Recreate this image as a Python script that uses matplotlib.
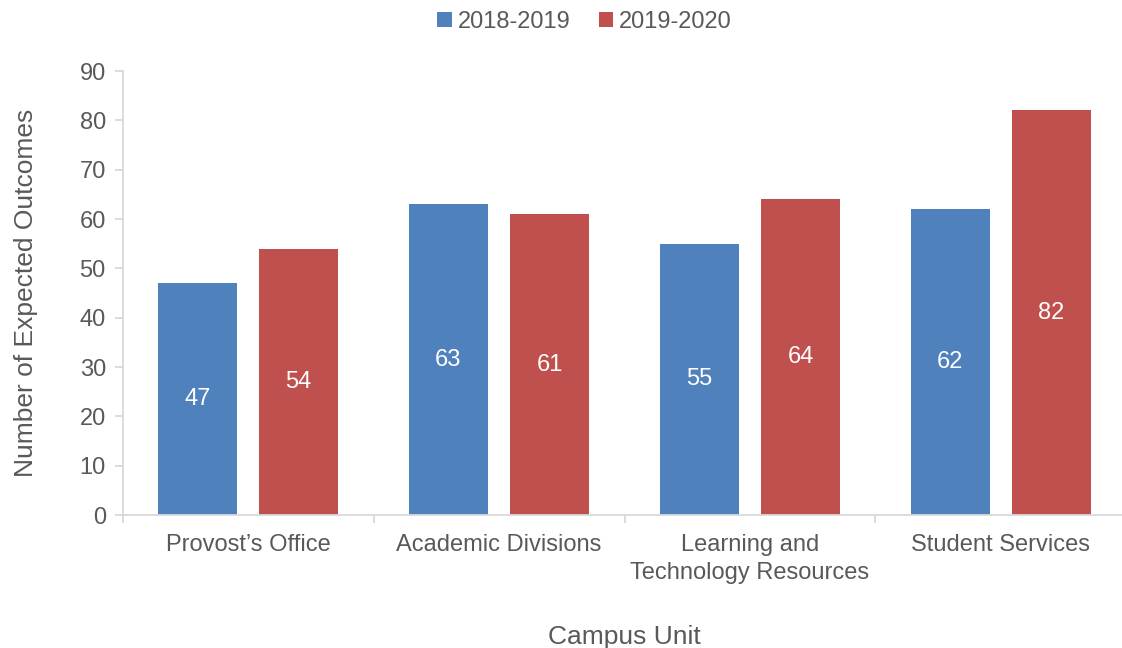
import matplotlib
matplotlib.use("Agg")
import matplotlib.pyplot as plt
import numpy as np

plt.rcParams["font.family"] = ["Liberation Sans", "DejaVu Sans"]

units = ["Provost\u2019s Office", "Academic Divisions",
         "Learning and\nTechnology Resources", "Student Services"]
years = ["2018-2019", "2019-2020"]
vals_1819 = [47, 63, 55, 62]
vals_1920 = [54, 61, 64, 82]

BLUE = "#4f81bd"
RED = "#c0504d"
TXT = "#595959"
AXC = "#d9d9d9"

fig = plt.figure(figsize=(11.22, 6.48), dpi=100)
ax = fig.add_axes([0.1092, 0.2052, 0.8948, 0.6852])

x = np.arange(len(units))
w = 0.315
off = 0.2015
b1 = ax.bar(x - off, vals_1819, w, color=BLUE, label=years[0], zorder=2)
b2 = ax.bar(x + off, vals_1920, w, color=RED, label=years[1], zorder=2)

for bars, vals in ((b1, vals_1819), (b2, vals_1920)):
    for r, v in zip(bars, vals):
        ax.text(r.get_x() + r.get_width() / 2, v / 2, str(v), ha="center",
                va="center", color="white", fontsize=17, zorder=3)

ax.set_xlim(-0.5, len(units) - 0.5)
ax.set_ylim(0, 90)
ax.set_yticks(range(0, 91, 10))
ax.set_xticks(x)
ax.set_xticklabels(units, linespacing=1.3)
ax.set_xticks(np.arange(-0.5, len(units), 1), minor=True)

for s in ("top", "right"):
    ax.spines[s].set_visible(False)
for s in ("left", "bottom"):
    ax.spines[s].set_color(AXC)
    ax.spines[s].set_linewidth(1.3)

ax.tick_params(axis="y", colors=AXC, labelcolor=TXT, labelsize=17,
               length=6, width=1.3, pad=6)
ax.tick_params(axis="x", which="major", length=0, labelcolor=TXT,
               labelsize=17, pad=14)
ax.tick_params(axis="x", which="minor", length=6, width=1.3, colors=AXC)

ax.set_ylabel("Number of Expected Outcomes", fontsize=19, color=TXT,
              labelpad=30)
ax.set_xlabel("Campus Unit", fontsize=19, color=TXT, labelpad=30)

leg = fig.legend(loc="upper center", bbox_to_anchor=(0.521, 1.016), ncol=2,
                 frameon=False, fontsize=17, handlelength=0.62,
                 handleheight=0.62, handletextpad=0.25, columnspacing=1.2)
for t in leg.get_texts():
    t.set_color(TXT)

fig.savefig("out.png", dpi=100, facecolor="white")
